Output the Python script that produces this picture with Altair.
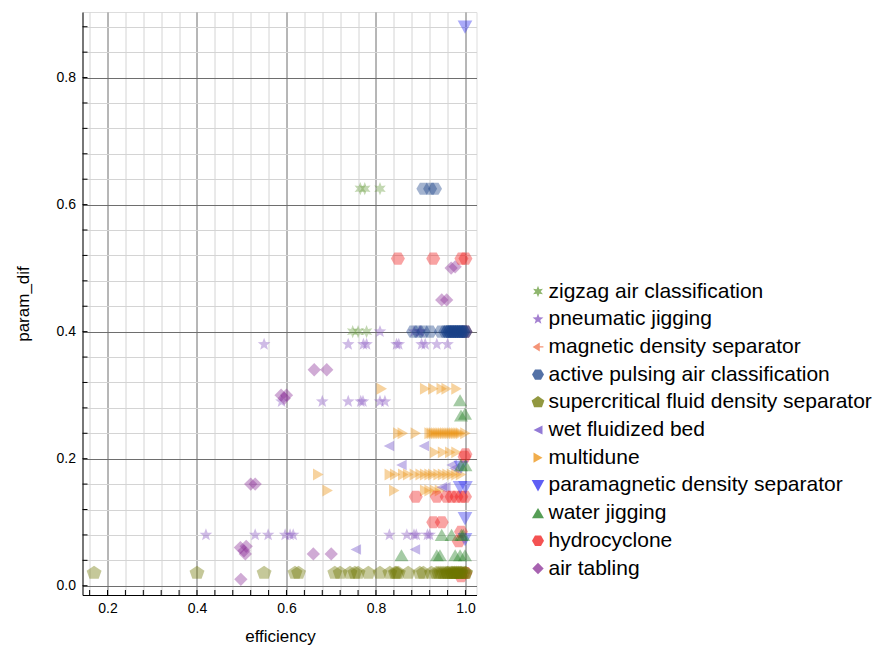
import math
import altair as alt
import pandas as pd

# ---------------- data ----------------
series_order = [
    "zigzag air classification",
    "pneumatic jigging",
    "magnetic density separator",
    "active pulsing air classification",
    "supercritical fluid density separator",
    "wet fluidized bed",
    "multidune",
    "paramagnetic density separator",
    "water jigging",
    "hydrocyclone",
    "air tabling",
]
series_colors = [
    "#6a9e3e", "#8656c0", "#f0704a", "#1a4288", "#6e7600", "#6e4ec8",
    "#ec9210", "#2a2af0", "#1e7e1e", "#f01818", "#8a2e96",
]

zigzag_x = [0.765, 0.775, 0.809, 0.748, 0.760, 0.779]
zigzag_y = [0.625, 0.625, 0.625, 0.40, 0.40, 0.40]

pneumatic_x = [0.55, 0.589, 0.42, 0.53, 0.559, 0.597, 0.608, 0.615,
               0.68, 0.738, 0.766, 0.771, 0.809, 0.82,
               0.738, 0.772, 0.779, 0.846, 0.851, 0.902, 0.91, 0.936, 0.96,
               0.809, 0.885, 0.897, 0.90,
               0.83, 0.869, 0.885, 0.89, 0.915, 0.92]
pneumatic_y = [0.38, 0.29, 0.08, 0.08, 0.08, 0.08, 0.08, 0.08,
               0.29, 0.29, 0.29, 0.29, 0.29, 0.29,
               0.38, 0.38, 0.38, 0.38, 0.38, 0.38, 0.38, 0.38, 0.38,
               0.40, 0.40, 0.40, 0.40,
               0.08, 0.08, 0.08, 0.08, 0.08, 0.08]

magnetic_x = [1.0, 0.995]
magnetic_y = [0.40, 0.02]

active_x = [0.906, 0.921, 0.932,
            0.883, 0.895, 0.906, 0.921, 0.945, 0.955, 0.96, 0.965, 0.97,
            0.975, 0.98, 0.985, 0.99, 0.995, 1.0, 0.96, 0.97, 0.98, 0.99,
            1.0, 0.965, 0.975, 0.985, 0.995]
active_y = [0.625, 0.625, 0.625] + [0.40] * 24

supercritical_x = [0.17, 0.40, 0.55, 0.619, 0.627, 0.708, 0.72, 0.742, 0.753,
                   0.76, 0.783, 0.809, 0.831, 0.843, 0.846, 0.85, 0.872,
                   0.898, 0.906, 0.924, 0.935, 0.94, 0.945, 0.95, 0.955,
                   0.96, 0.965, 0.97, 0.975, 0.98, 0.985, 0.99, 0.995, 1.0,
                   0.96, 0.97, 0.98, 0.99, 1.0, 0.975, 0.985]
supercritical_y = [0.02] * 41

wet_x = [0.755, 0.887, 0.829, 0.907, 0.857, 0.947, 0.955, 0.969, 0.975]
wet_y = [0.057, 0.057, 0.22, 0.22, 0.19, 0.155, 0.155, 0.19, 0.185]

multidune_x = [0.813, 0.91, 0.928, 0.947, 0.958, 0.98,
               0.85, 0.86, 0.889, 0.92, 0.925, 0.93, 0.935, 0.94, 0.945,
               0.95, 0.955, 0.96, 0.965, 0.97, 0.975, 0.98, 0.985, 0.99, 1.0,
               0.932, 0.95, 0.966, 0.98,
               0.671, 0.831, 0.843, 0.861, 0.872, 0.887, 0.90, 0.91, 0.92,
               0.928, 0.94, 0.95, 0.96, 0.97, 0.98, 0.99,
               0.692, 0.841, 0.91, 0.92, 0.932, 0.943]
multidune_y = ([0.31] * 6 + [0.24] * 19 + [0.21] * 4 + [0.175] * 16
               + [0.15] * 6)

paramagnetic_x = [0.999, 0.999, 0.999, 0.988, 1.0, 0.99]
paramagnetic_y = [0.88, 0.106, 0.073, 0.155, 0.155, 0.187]

water_x = [0.988, 0.999, 0.99, 0.99, 1.0, 0.947, 0.969, 0.991, 0.995,
           0.857, 0.936, 0.943, 0.977, 0.988, 0.999]
water_y = [0.292, 0.271, 0.268, 0.19, 0.19, 0.08, 0.08, 0.08, 0.08,
           0.048, 0.048, 0.048, 0.048, 0.048, 0.048]

hydro_x = [0.849, 0.928, 0.991, 1.0, 1.0, 0.998,
           0.889, 0.936, 0.958, 0.969, 0.98, 0.991, 0.999,
           0.928, 0.947, 0.985, 0.99, 0.99, 1.0, 1.0]
hydro_y = [0.515, 0.515, 0.515, 0.515, 0.207, 0.203,
           0.14, 0.14, 0.14, 0.14, 0.14, 0.14, 0.14,
           0.10, 0.10, 0.07, 0.085, 0.015, 0.02, 0.40]

airtab_x = [0.498, 0.497, 0.51, 0.508, 0.505, 0.52, 0.53, 0.588, 0.60, 0.595,
            0.662, 0.69, 0.66, 0.70, 0.947, 0.958, 0.968, 0.977]
airtab_y = [0.01, 0.06, 0.062, 0.05, 0.055, 0.16, 0.16, 0.30, 0.30, 0.295,
            0.34, 0.34, 0.05, 0.05, 0.45, 0.45, 0.50, 0.502]

x_ticks = [round(0.16 + 0.04 * i, 2) for i in range(22)]
y_ticks = [round(0.04 * i, 2) for i in range(23)]

# drawing order (bottom -> top)
draw = [
    ("zigzag air classification", zigzag_x, zigzag_y),
    ("pneumatic jigging", pneumatic_x, pneumatic_y),
    ("air tabling", airtab_x, airtab_y),
    ("multidune", multidune_x, multidune_y),
    ("wet fluidized bed", wet_x, wet_y),
    ("magnetic density separator", magnetic_x, magnetic_y),
    ("hydrocyclone", hydro_x, hydro_y),
    ("paramagnetic density separator", paramagnetic_x, paramagnetic_y),
    ("water jigging", water_x, water_y),
    ("active pulsing air classification", active_x, active_y),
    ("supercritical fluid density separator", supercritical_x, supercritical_y),
]
rows = []
for name, xs, ys in draw:
    for a, b in zip(xs, ys):
        rows.append({"efficiency": a, "param_dif": b, "method": name})
df = pd.DataFrame(rows)

# ---------------- shapes ----------------
def poly(pts):
    return "M" + " L".join(f"{px:.3f},{py:.3f}" for px, py in pts) + " Z"

def regular(n, r, rot, sx=1.0, sy=1.0):
    return poly([(sx * r * math.cos(math.radians(rot + 360 * k / n)),
                  sy * r * math.sin(math.radians(rot + 360 * k / n))) for k in range(n)])

def star(n, ro, ri, rot=-90):
    pts = []
    for k in range(2 * n):
        rr = ro if k % 2 == 0 else ri
        ang = math.radians(rot + 180 * k / n)
        pts.append((rr * math.cos(ang), rr * math.sin(ang)))
    return poly(pts)

shape_star6 = star(6, 0.95, 0.45)
shape_star5 = star(5, 0.95, 0.40)
shape_magnetic = ("M-0.9,0 L0.3,-0.75 L0.3,-0.12 L0.9,-0.12 L0.9,0.12 "
                  "L0.3,0.12 L0.3,0.75 Z")
shape_hex = regular(6, 1.0, 0)
shape_pent = regular(5, 1.12, -90, 1.0, 0.92)
shape_tleft = poly([(-0.75, 0), (0.75, -0.75), (0.75, 0.75)])
shape_tright = poly([(0.75, 0), (-0.75, -0.85), (-0.75, 0.85)])
shape_tdown = poly([(-1.05, -0.9), (1.05, -0.9), (0, 1.0)])
shape_tup = poly([(0, -0.87), (-1.0, 0.87), (1.0, 0.87)])
shape_diamond = poly([(0, -0.95), (0.95, 0), (0, 0.95), (-0.95, 0)])

series_shapes = [shape_star6, shape_star5, shape_magnetic, shape_hex, shape_pent,
                 shape_tleft, shape_tright, shape_tdown, shape_tup, shape_hex,
                 shape_diamond]

# ---------------- chart ----------------
FONT = "Liberation Sans"
W, H = 394, 583
xdom = [0.1441, 1.0247]
ydom = [-0.0146, 0.9032]
is_major = "abs(datum.value*5 - round(datum.value*5)) < 1e-6"
grid_color = {"condition": {"test": is_major, "value": "#6e6e6e"}, "value": "#d4d4d4"}

xscale = alt.Scale(domain=xdom, nice=False, zero=False)
yscale = alt.Scale(domain=ydom, nice=False, zero=False)

x_axis = alt.Axis(
    values=x_ticks, labelExpr=f"{is_major} ? format(datum.value, '.1f') : ''",
    gridColor=grid_color, gridWidth=1, ticks=False,
    domainColor="#000", domainWidth=1,
    labelFont=FONT, labelFontSize=14, labelColor="#000", labelPadding=6,
    title="efficiency", titleFont=FONT, titleFontSize=17,
    titleFontWeight="normal", titleColor="#000",
    titleX=197.5, titleY=46, titleBaseline="alphabetic", titleAlign="center")
y_axis = alt.Axis(
    values=y_ticks, labelExpr=f"{is_major} ? format(datum.value, '.1f') : ''",
    gridColor=grid_color, gridWidth=1, ticks=False,
    domainColor="#000", domainWidth=1,
    labelFont=FONT, labelFontSize=14, labelColor="#000", labelPadding=7,
    title="param_dif", titleFont=FONT, titleFontSize=17,
    titleFontWeight="normal", titleColor="#000", titleAngle=-90,
    titleX=-59, titleY=291.5, titleBaseline="middle", titleAlign="center")

legend = alt.Legend(
    title=None, orient="none", legendX=445, legendY=269,
    labelFont=FONT, labelFontSize=21, labelColor="#000", labelLimit=0,
    symbolSize=144, symbolOpacity=0.75, symbolStrokeWidth=0,
    labelOffset=0, rowPadding=5.7, padding=0,
)

points = alt.Chart(df).mark_point(filled=True, size=196, fillOpacity=0.4,
                                  strokeWidth=0).encode(
    x=alt.X("efficiency:Q", scale=xscale, axis=x_axis),
    y=alt.Y("param_dif:Q", scale=yscale, axis=y_axis),
    color=alt.Color("method:N", scale=alt.Scale(domain=series_order, range=series_colors),
                    legend=legend),
    shape=alt.Shape("method:N", scale=alt.Scale(domain=series_order, range=series_shapes),
                    legend=legend),
)

xt = pd.DataFrame({"efficiency": x_ticks})
yt = pd.DataFrame({"param_dif": y_ticks})
xtick_layer = alt.Chart(xt).mark_rule(color="#000", strokeWidth=1).encode(
    x=alt.X("efficiency:Q", scale=xscale, axis=x_axis),
    y=alt.value(H - 5), y2=alt.value(H))
ytick_layer = alt.Chart(yt).mark_rule(color="#000", strokeWidth=1).encode(
    y=alt.Y("param_dif:Q", scale=yscale, axis=y_axis),
    x=alt.value(0), x2=alt.value(5))

chart = alt.layer(points, xtick_layer, ytick_layer).properties(
    width=W, height=H,
    autosize=alt.AutoSizeParams(type="none"),
    padding={"left": 82.5, "top": 12, "right": 402.5, "bottom": 50},
).configure_view(strokeWidth=0, stroke="transparent").configure(background="white")

chart.save("out.html", embed_options={"renderer": "svg", "actions": False})
